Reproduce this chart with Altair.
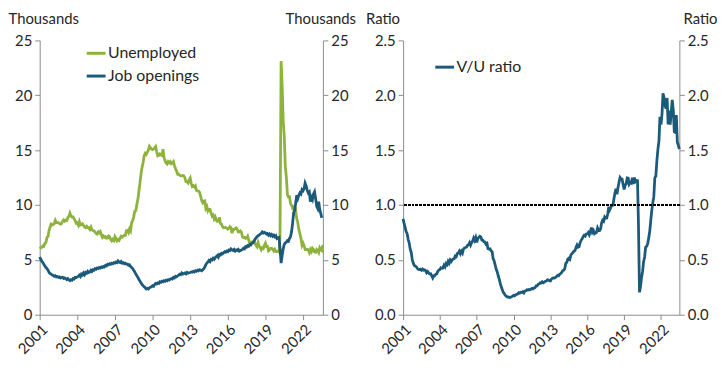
import altair as alt
import pandas as pd

# ---- data (monthly, millions labelled "Thousands" as in the source) ----
unemployed = [
    6.02, 6.09, 6.14, 6.27, 6.23, 6.48, 6.58, 7.04, 7.14, 7.69, 8.00, 8.26,   # 2001
    8.18, 8.22, 8.30, 8.60, 8.40, 8.39, 8.39, 8.30, 8.25, 8.31, 8.52, 8.64,   # 2002
    8.52, 8.62, 8.59, 8.84, 8.96, 9.27, 9.01, 8.90, 8.92, 8.73, 8.58, 8.32,   # 2003
    8.37, 8.17, 8.49, 8.17, 8.21, 8.29, 8.14, 7.99, 7.93, 8.06, 7.93, 7.93,   # 2004
    7.78, 7.98, 7.74, 7.67, 7.65, 7.52, 7.41, 7.35, 7.55, 7.45, 7.57, 7.28,   # 2005
    7.06, 7.18, 7.07, 7.12, 6.98, 7.00, 7.18, 7.09, 6.85, 6.73, 6.87, 6.76,   # 2006
    7.12, 6.93, 6.73, 6.85, 6.77, 6.98, 7.15, 7.07, 7.17, 7.24, 7.24, 7.65,   # 2007
    7.69, 7.50, 7.82, 7.64, 8.40, 8.58, 8.94, 9.44, 9.49, 10.07, 10.54, 11.29,  # 2008
    12.06, 12.90, 13.43, 13.85, 14.50, 14.71, 14.60, 14.81, 15.01, 15.35, 15.22, 15.10,  # 2009
    15.05, 15.11, 15.20, 15.33, 14.85, 14.47, 14.51, 14.65, 14.58, 14.52, 15.08, 14.35,  # 2010
    14.01, 13.82, 13.74, 13.96, 13.86, 13.96, 13.76, 13.82, 13.95, 13.59, 13.30, 13.09,  # 2011
    12.80, 12.81, 12.71, 12.65, 12.66, 12.69, 12.66, 12.47, 12.12, 12.12, 12.01, 12.30,  # 2012
    12.47, 11.95, 11.69, 11.76, 11.65, 11.75, 11.34, 11.28, 11.27, 11.14, 10.79, 10.40,  # 2013
    10.20, 10.35, 10.38, 9.70, 9.86, 9.46, 9.61, 9.60, 9.26, 8.99, 9.09, 8.72,   # 2014
    8.90, 8.61, 8.50, 8.53, 8.88, 8.30, 8.26, 8.02, 7.92, 7.93, 7.95, 7.90,   # 2015
    7.80, 7.87, 8.03, 7.95, 7.43, 7.78, 7.76, 7.86, 7.92, 7.80, 7.54, 7.55,   # 2016
    7.63, 7.53, 7.11, 7.03, 7.05, 6.96, 6.99, 7.15, 6.79, 6.50, 6.62, 6.63,   # 2017
    6.58, 6.72, 6.51, 6.33, 6.19, 6.56, 6.26, 6.10, 5.92, 6.10, 6.03, 6.32,   # 2018
    6.52, 6.21, 6.22, 5.82, 5.91, 6.05, 6.06, 5.96, 5.81, 5.96, 5.76, 5.75,   # 2019
    5.80, 5.72, 7.19, 23.11, 20.98, 17.70, 16.31, 13.55, 12.54, 10.97, 10.73, 10.74,  # 2020
    10.13, 9.97, 9.71, 9.81, 9.32, 9.48, 8.74, 8.38, 7.75, 7.37, 6.94, 6.32,   # 2021
    6.52, 6.27, 5.95, 5.94, 5.96, 5.91, 5.67, 5.94, 5.75, 6.06, 5.95, 5.72,   # 2022
    5.69, 5.94, 5.84, 5.66, 6.10, 5.96, 5.85, 6.36,                           # 2023
]

job_openings = [
    5.26, 5.05, 4.90, 4.75, 4.60, 4.45, 4.30, 4.20, 4.05, 3.85, 3.75, 3.70,   # 2001
    3.62, 3.58, 3.50, 3.55, 3.45, 3.48, 3.40, 3.45, 3.35, 3.40, 3.42, 3.30,   # 2002
    3.35, 3.28, 3.20, 3.30, 3.18, 3.10, 3.20, 3.15, 3.30, 3.25, 3.40, 3.38,   # 2003
    3.45, 3.50, 3.60, 3.48, 3.70, 3.62, 3.80, 3.65, 3.85, 3.78, 3.95, 3.85,   # 2004
    3.90, 4.05, 3.95, 4.10, 4.05, 4.20, 4.15, 4.25, 4.20, 4.30, 4.25, 4.35,   # 2005
    4.30, 4.40, 4.35, 4.50, 4.45, 4.60, 4.55, 4.65, 4.60, 4.70, 4.65, 4.75,   # 2006
    4.70, 4.80, 4.75, 4.90, 4.80, 4.75, 4.85, 4.70, 4.75, 4.65, 4.70, 4.60,   # 2007
    4.60, 4.50, 4.55, 4.40, 4.30, 4.20, 4.05, 3.90, 3.70, 3.55, 3.40, 3.20,   # 2008
    3.05, 2.90, 2.75, 2.65, 2.55, 2.45, 2.35, 2.40, 2.35, 2.45, 2.50, 2.55,   # 2009
    2.65, 2.60, 2.75, 2.85, 2.80, 2.90, 2.85, 3.00, 2.95, 3.05, 3.00, 3.10,   # 2010
    3.05, 3.15, 3.10, 3.20, 3.15, 3.25, 3.30, 3.25, 3.40, 3.35, 3.50, 3.45,   # 2011
    3.55, 3.60, 3.70, 3.65, 3.80, 3.70, 3.75, 3.80, 3.72, 3.85, 3.78, 3.82,   # 2012
    3.85, 3.90, 3.88, 3.95, 3.90, 4.00, 3.95, 4.05, 4.00, 4.10, 4.05, 4.00,   # 2013
    4.10, 4.20, 4.35, 4.55, 4.70, 4.80, 4.95, 4.85, 5.05, 5.00, 5.15, 5.05,   # 2014
    5.20, 5.30, 5.40, 5.25, 5.50, 5.45, 5.60, 5.55, 5.65, 5.75, 5.70, 5.80,   # 2015
    5.75, 5.90, 5.85, 6.00, 5.90, 5.85, 5.95, 5.80, 5.90, 5.85, 5.95, 5.80,   # 2016
    5.85, 5.90, 5.95, 6.05, 6.00, 6.20, 6.15, 6.30, 6.25, 6.40, 6.35, 6.50,   # 2017
    6.55, 6.70, 6.85, 7.00, 7.10, 7.20, 7.25, 7.35, 7.40, 7.55, 7.45, 7.50,   # 2018
    7.45, 7.35, 7.40, 7.25, 7.35, 7.20, 7.30, 7.15, 7.25, 7.10, 7.20, 6.95,   # 2019
    7.00, 7.05, 6.00, 4.70, 5.40, 6.00, 6.40, 6.55, 6.60, 6.75, 6.70, 6.95,   # 2020
    7.10, 7.60, 8.30, 9.30, 9.50, 10.20, 10.90, 10.60, 10.90, 11.10, 11.00, 11.40,  # 2021
    11.30, 11.50, 12.00, 11.75, 11.35, 11.10, 11.20, 10.30, 10.70, 10.50, 11.00, 11.20,  # 2022
    10.60, 9.90, 9.70, 10.30, 9.60, 9.20, 8.83,                              # 2023
]

tick_years = [2001, 2004, 2007, 2010, 2013, 2016, 2019, 2022]
series_names = ["Unemployed", "Job openings", "V/U ratio"]
series_colors = ["#8db33c", "#1b5a7a", "#1b5a7a"]

# ---- tables ----
dates_u = pd.date_range("2001-01-01", periods=len(unemployed), freq="MS")
dates_v = pd.date_range("2001-01-01", periods=len(job_openings), freq="MS")
df_u = pd.DataFrame({"date": dates_u, "value": unemployed, "series": series_names[0]})
df_v = pd.DataFrame({"date": dates_v, "value": job_openings, "series": series_names[1]})
df_left = pd.concat([df_u, df_v], ignore_index=True)

n = min(len(unemployed), len(job_openings))
df_right = pd.DataFrame({
    "date": dates_v[:n],
    "ratio": [job_openings[i] / unemployed[i] for i in range(n)],
    "series": series_names[2],
})

FONT = "Lato"
TXT = "#262626"
AX = "#8c8c8c"

x_vals = [alt.DateTime(year=y, month=1, date=1) for y in tick_years]


def x_axis():
    return alt.Axis(values=x_vals, format="%Y", labelAngle=-45, title=None, grid=False,
                    tickSize=5, labelFontSize=15, labelPadding=2)


def y_axis(orient, title, tx, fmt, vals):
    return alt.Axis(orient=orient, values=vals, format=fmt, grid=False, tickSize=5,
                    labelFontSize=15, labelPadding=3, title=title, titleAngle=0,
                    titleAlign="left" if orient == "left" else "right",
                    titleBaseline="middle", titleX=tx, titleY=-22,
                    titleFontSize=15, titleFontWeight="normal")


# ---- left panel ----
xl = alt.X("date:T", scale=alt.Scale(domain=[alt.DateTime(year=2001, month=1, date=1),
                                             alt.DateTime(year=2023, month=8, date=1)]),
           axis=x_axis())
yl_scale = alt.Scale(domain=[0, 25], nice=False)
lines_left = alt.Chart(df_left).mark_line(strokeWidth=2.8).encode(
    x=xl,
    y=alt.Y("value:Q", scale=yl_scale,
            axis=y_axis("left", "Thousands", -32, "d", [0, 5, 10, 15, 20, 25])),
    color=alt.Color("series:N",
                    scale=alt.Scale(domain=series_names[:2], range=series_colors[:2]),
                    legend=alt.Legend(orient="none", legendX=46, legendY=2, title=None,
                                      symbolType="stroke", symbolSize=361,
                                      symbolStrokeWidth=3, labelFontSize=16,
                                      labelOffset=1, rowPadding=4, labelColor=TXT)),
    order=alt.Order("series:N", sort="descending"),
)
axis_right_left = alt.Chart(df_u).mark_line(opacity=0).encode(
    x=xl,
    y=alt.Y("value:Q", scale=yl_scale,
            axis=y_axis("right", "Thousands", 33, "d", [0, 5, 10, 15, 20, 25])),
)
left = alt.layer(lines_left, axis_right_left).resolve_axis(y="independent").properties(
    width=286, height=277)

# ---- right panel ----
xr = alt.X("date:T", scale=alt.Scale(domain=[alt.DateTime(year=2001, month=1, date=1),
                                             alt.DateTime(year=2023, month=7, date=1)]),
           axis=x_axis())
yr_scale = alt.Scale(domain=[0, 2.5], nice=False)
line_right = alt.Chart(df_right).mark_line(strokeWidth=2.8).encode(
    x=xr,
    y=alt.Y("ratio:Q", scale=yr_scale,
            axis=y_axis("left", "Ratio", -38, ".1f", [0, 0.5, 1.0, 1.5, 2.0, 2.5])),
    color=alt.Color("series:N",
                    scale=alt.Scale(domain=series_names[2:], range=series_colors[2:]),
                    legend=alt.Legend(orient="none", legendX=31, legendY=16, title=None,
                                      symbolType="stroke", symbolSize=361,
                                      symbolStrokeWidth=3, labelFontSize=16,
                                      labelOffset=1, labelColor=TXT)),
)
ref_line = alt.Chart(df_right).mark_rule(color="#000000", strokeWidth=1,
                                         strokeDash=[2, 2]).encode(
    y=alt.YDatum(1.0, axis=None))
axis_right_right = alt.Chart(df_right).mark_line(opacity=0).encode(
    x=xr,
    y=alt.Y("ratio:Q", scale=yr_scale,
            axis=y_axis("right", "Ratio", 38, ".1f", [0, 0.5, 1.0, 1.5, 2.0, 2.5])),
)
right = alt.layer(line_right, ref_line, axis_right_right).resolve_axis(
    y="independent").properties(width=279, height=277)

chart = alt.hconcat(left, right, spacing=10).resolve_scale(
    color="independent", x="independent", y="independent"
).configure(font=FONT, padding={"top": 2, "left": 0, "right": 0, "bottom": 0},
            background="white").configure_view(
    stroke=None
).configure_axis(
    domainColor=AX, tickColor=AX, labelColor=TXT, titleColor=TXT, labelFont=FONT,
    titleFont=FONT, domainWidth=1, tickWidth=1
).configure_legend(labelFont=FONT)

chart.save("out.html", embed_options={"renderer": "svg", "actions": False})
